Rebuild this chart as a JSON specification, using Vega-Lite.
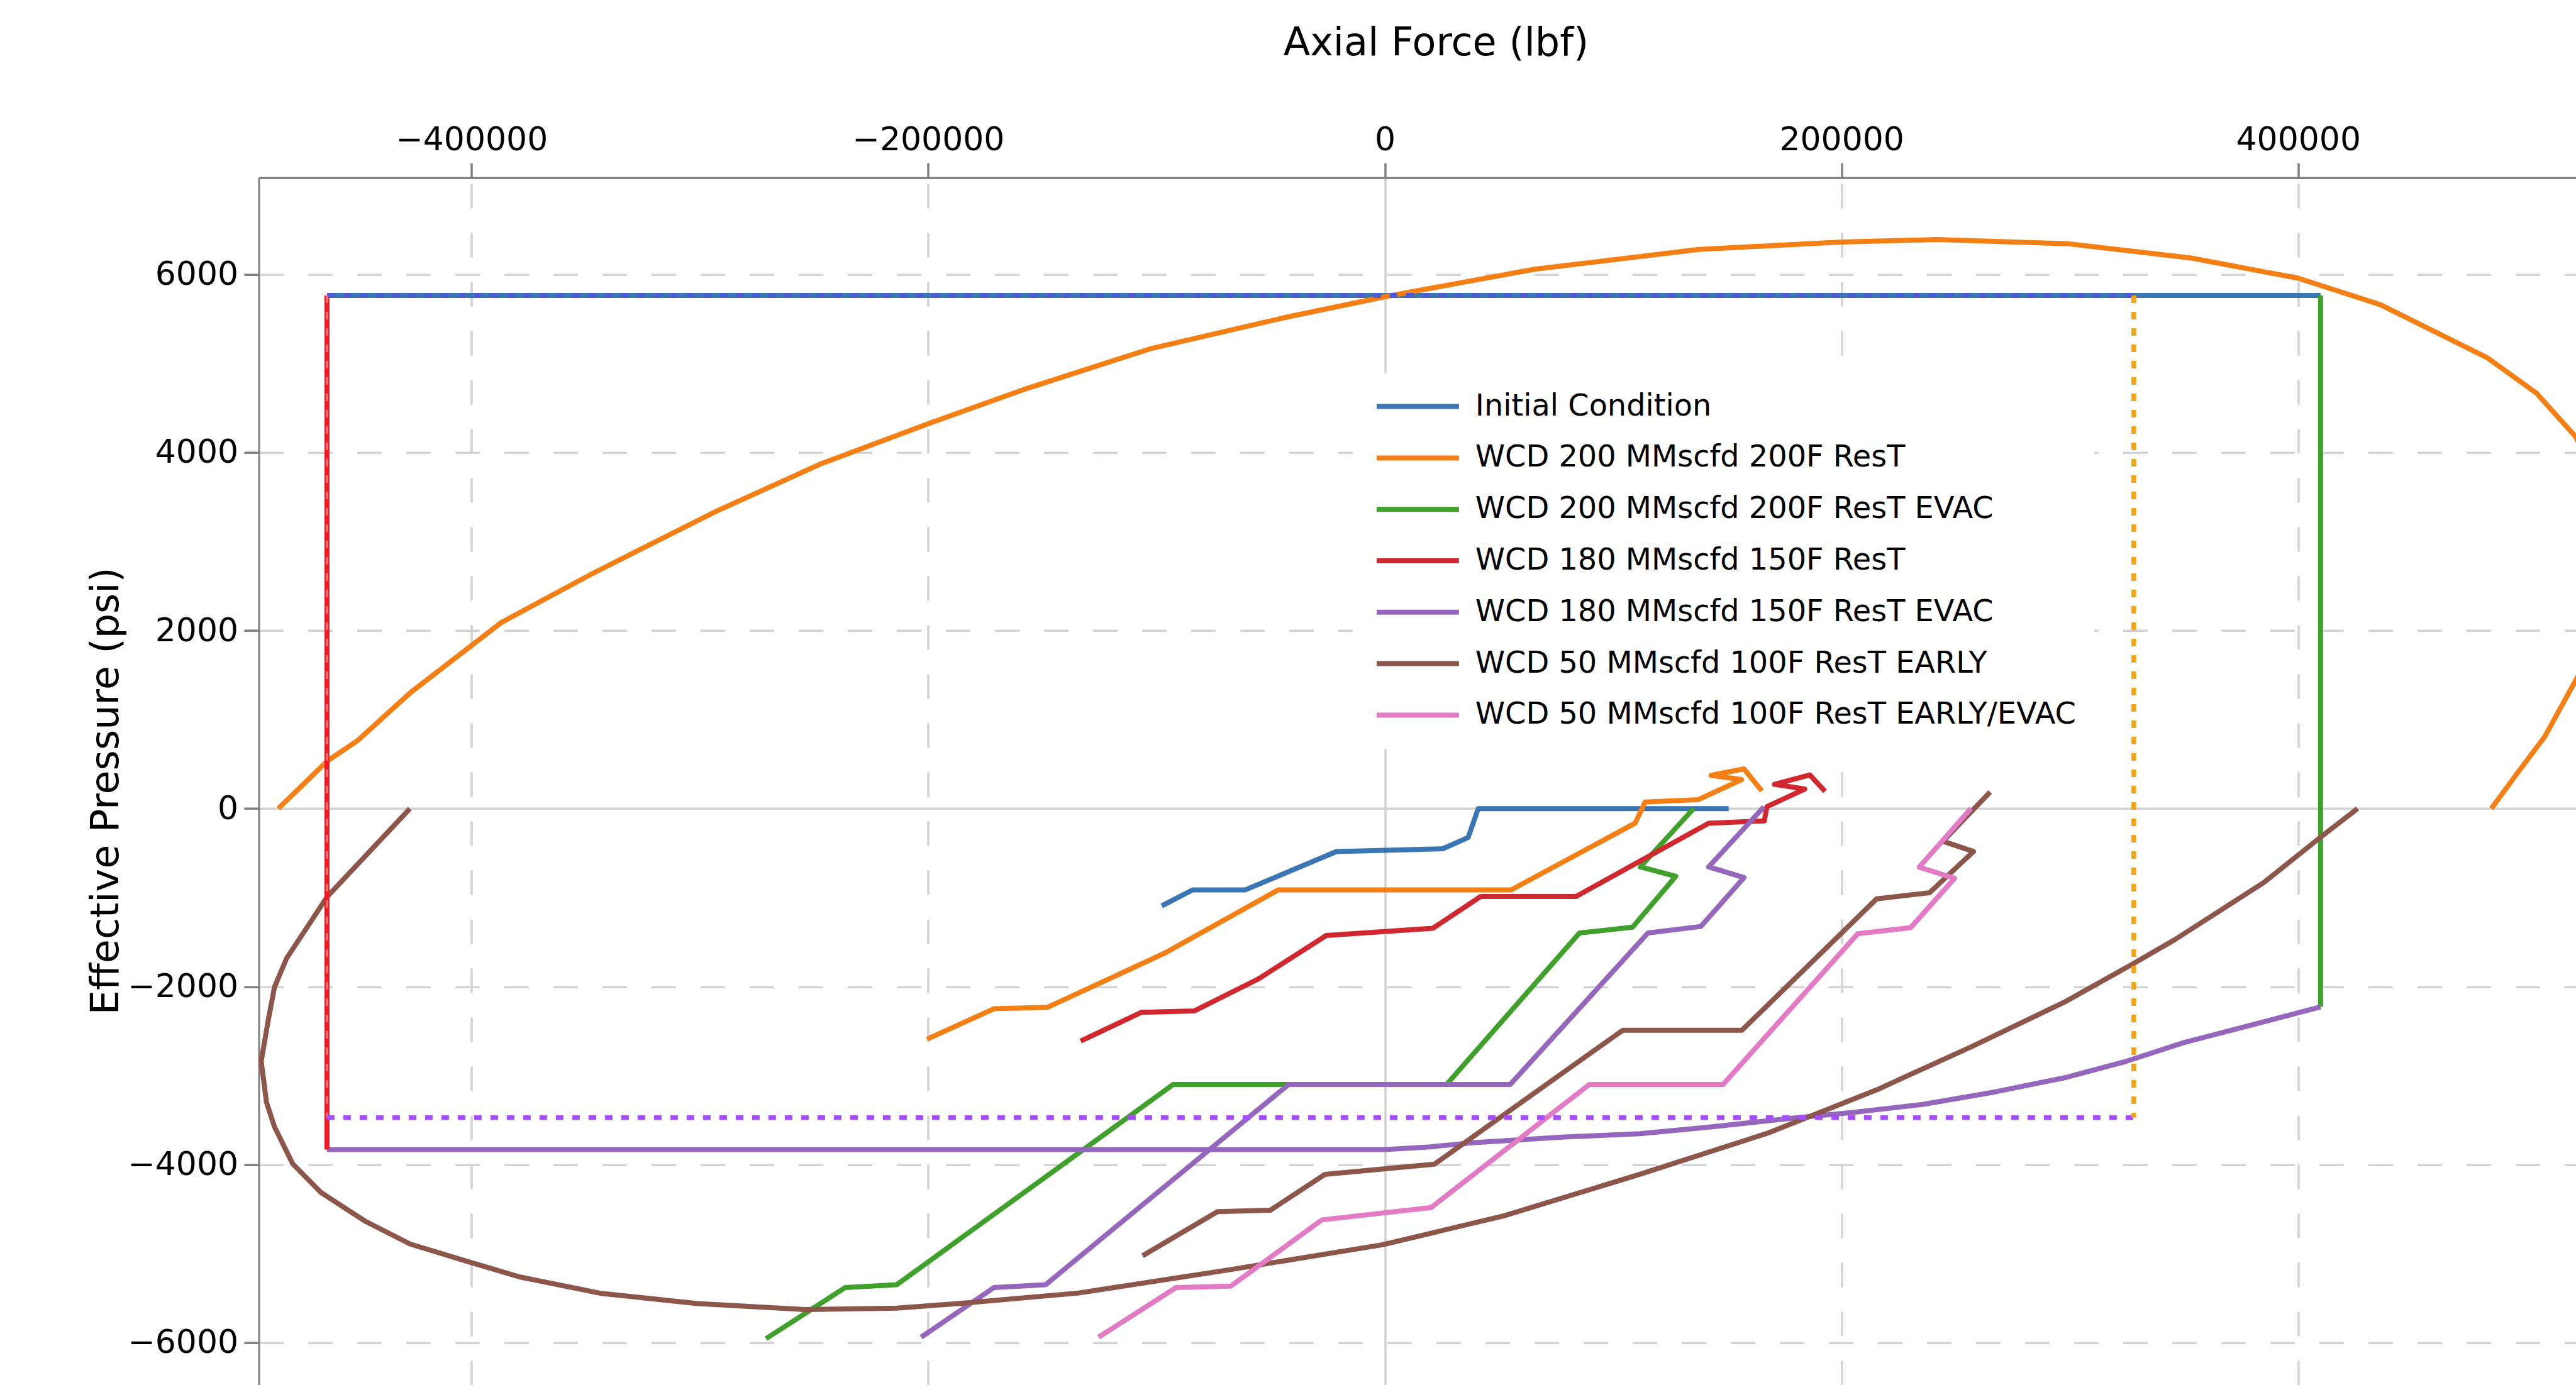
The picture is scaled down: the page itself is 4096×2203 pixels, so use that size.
{
  "$schema": "https://vega.github.io/schema/vega-lite/v6.json",
  "width": 3684.5,
  "height": 1920.3,
  "autosize": {"type": "none"},
  "padding": {"left": 411.5, "top": 282.7, "right": 0, "bottom": 0},
  "background": "#ffffff",
  "config": {"view": {"stroke": null}, "font": "DejaVu Sans"},
  "datasets": {
    "lines": [
      {"series": "Initial Condition", "part": "ic", "i": 1, "x": -97700, "y": -1093},
      {"series": "Initial Condition", "part": "ic", "i": 2, "x": -84200, "y": -913},
      {"series": "Initial Condition", "part": "ic", "i": 3, "x": -61100, "y": -913},
      {"series": "Initial Condition", "part": "ic", "i": 4, "x": -21200, "y": -483},
      {"series": "Initial Condition", "part": "ic", "i": 5, "x": 25400, "y": -451},
      {"series": "Initial Condition", "part": "ic", "i": 6, "x": 36500, "y": -324},
      {"series": "Initial Condition", "part": "ic", "i": 7, "x": 40900, "y": 0},
      {"series": "Initial Condition", "part": "ic", "i": 8, "x": 150600, "y": 0},
      {"series": "Initial Condition", "part": "ic_env", "i": 1, "x": -463300, "y": 5765},
      {"series": "Initial Condition", "part": "ic_env", "i": 2, "x": 409800, "y": 5765},

      {"series": "WCD 200 MMscfd 200F ResT", "part": "o", "i": 1, "x": -200500, "y": -2590},
      {"series": "WCD 200 MMscfd 200F ResT", "part": "o", "i": 2, "x": -171200, "y": -2249},
      {"series": "WCD 200 MMscfd 200F ResT", "part": "o", "i": 3, "x": -147800, "y": -2233},
      {"series": "WCD 200 MMscfd 200F ResT", "part": "o", "i": 4, "x": -96500, "y": -1625},
      {"series": "WCD 200 MMscfd 200F ResT", "part": "o", "i": 5, "x": -46700, "y": -913},
      {"series": "WCD 200 MMscfd 200F ResT", "part": "o", "i": 6, "x": 55300, "y": -913},
      {"series": "WCD 200 MMscfd 200F ResT", "part": "o", "i": 7, "x": 109600, "y": -164},
      {"series": "WCD 200 MMscfd 200F ResT", "part": "o", "i": 8, "x": 114000, "y": 74},
      {"series": "WCD 200 MMscfd 200F ResT", "part": "o", "i": 9, "x": 137300, "y": 101},
      {"series": "WCD 200 MMscfd 200F ResT", "part": "o", "i": 10, "x": 156200, "y": 326},
      {"series": "WCD 200 MMscfd 200F ResT", "part": "o", "i": 11, "x": 142900, "y": 374},
      {"series": "WCD 200 MMscfd 200F ResT", "part": "o", "i": 12, "x": 157300, "y": 446},
      {"series": "WCD 200 MMscfd 200F ResT", "part": "o", "i": 13, "x": 165100, "y": 199},

      {"series": "WCD 200 MMscfd 200F ResT", "part": "o_ell", "i": 1, "x": -484600, "y": 0},
      {"series": "WCD 200 MMscfd 200F ResT", "part": "o_ell", "i": 2, "x": -463200, "y": 534},
      {"series": "WCD 200 MMscfd 200F ResT", "part": "o_ell", "i": 3, "x": -449900, "y": 764},
      {"series": "WCD 200 MMscfd 200F ResT", "part": "o_ell", "i": 4, "x": -426600, "y": 1306},
      {"series": "WCD 200 MMscfd 200F ResT", "part": "o_ell", "i": 5, "x": -387000, "y": 2090},
      {"series": "WCD 200 MMscfd 200F ResT", "part": "o_ell", "i": 6, "x": -347400, "y": 2636},
      {"series": "WCD 200 MMscfd 200F ResT", "part": "o_ell", "i": 7, "x": -293500, "y": 3332},
      {"series": "WCD 200 MMscfd 200F ResT", "part": "o_ell", "i": 8, "x": -246800, "y": 3876},
      {"series": "WCD 200 MMscfd 200F ResT", "part": "o_ell", "i": 9, "x": -200000, "y": 4324},
      {"series": "WCD 200 MMscfd 200F ResT", "part": "o_ell", "i": 10, "x": -156900, "y": 4719},
      {"series": "WCD 200 MMscfd 200F ResT", "part": "o_ell", "i": 11, "x": -102900, "y": 5165},
      {"series": "WCD 200 MMscfd 200F ResT", "part": "o_ell", "i": 12, "x": -42400, "y": 5525},
      {"series": "WCD 200 MMscfd 200F ResT", "part": "o_ell", "i": 13, "x": 0, "y": 5751},
      {"series": "WCD 200 MMscfd 200F ResT", "part": "o_ell", "i": 14, "x": 65500, "y": 6060},
      {"series": "WCD 200 MMscfd 200F ResT", "part": "o_ell", "i": 15, "x": 137400, "y": 6282},
      {"series": "WCD 200 MMscfd 200F ResT", "part": "o_ell", "i": 16, "x": 199700, "y": 6366},
      {"series": "WCD 200 MMscfd 200F ResT", "part": "o_ell", "i": 17, "x": 241700, "y": 6393},
      {"series": "WCD 200 MMscfd 200F ResT", "part": "o_ell", "i": 18, "x": 299300, "y": 6346},
      {"series": "WCD 200 MMscfd 200F ResT", "part": "o_ell", "i": 19, "x": 353300, "y": 6185},
      {"series": "WCD 200 MMscfd 200F ResT", "part": "o_ell", "i": 20, "x": 400000, "y": 5959},
      {"series": "WCD 200 MMscfd 200F ResT", "part": "o_ell", "i": 21, "x": 436000, "y": 5662},
      {"series": "WCD 200 MMscfd 200F ResT", "part": "o_ell", "i": 22, "x": 482700, "y": 5067},
      {"series": "WCD 200 MMscfd 200F ResT", "part": "o_ell", "i": 23, "x": 504300, "y": 4669},
      {"series": "WCD 200 MMscfd 200F ResT", "part": "o_ell", "i": 24, "x": 521700, "y": 4173},
      {"series": "WCD 200 MMscfd 200F ResT", "part": "o_ell", "i": 25, "x": 533000, "y": 3500},
      {"series": "WCD 200 MMscfd 200F ResT", "part": "o_ell", "i": 26, "x": 538000, "y": 2800},
      {"series": "WCD 200 MMscfd 200F ResT", "part": "o_ell", "i": 27, "x": 533000, "y": 2000},
      {"series": "WCD 200 MMscfd 200F ResT", "part": "o_ell", "i": 28, "x": 521700, "y": 1450},
      {"series": "WCD 200 MMscfd 200F ResT", "part": "o_ell", "i": 29, "x": 508000, "y": 809},
      {"series": "WCD 200 MMscfd 200F ResT", "part": "o_ell", "i": 30, "x": 496000, "y": 400},
      {"series": "WCD 200 MMscfd 200F ResT", "part": "o_ell", "i": 31, "x": 484600, "y": 0},

      {"series": "WCD 200 MMscfd 200F ResT EVAC", "part": "g", "i": 1, "x": -271000, "y": -5955},
      {"series": "WCD 200 MMscfd 200F ResT EVAC", "part": "g", "i": 2, "x": -236300, "y": -5381},
      {"series": "WCD 200 MMscfd 200F ResT EVAC", "part": "g", "i": 3, "x": -213800, "y": -5350},
      {"series": "WCD 200 MMscfd 200F ResT EVAC", "part": "g", "i": 4, "x": -92700, "y": -3100},
      {"series": "WCD 200 MMscfd 200F ResT EVAC", "part": "g", "i": 5, "x": 27000, "y": -3100},
      {"series": "WCD 200 MMscfd 200F ResT EVAC", "part": "g", "i": 6, "x": 85200, "y": -1398},
      {"series": "WCD 200 MMscfd 200F ResT EVAC", "part": "g", "i": 7, "x": 108500, "y": -1332},
      {"series": "WCD 200 MMscfd 200F ResT EVAC", "part": "g", "i": 8, "x": 127400, "y": -761},
      {"series": "WCD 200 MMscfd 200F ResT EVAC", "part": "g", "i": 9, "x": 111900, "y": -655},
      {"series": "WCD 200 MMscfd 200F ResT EVAC", "part": "g", "i": 10, "x": 135200, "y": 0},
      {"series": "WCD 200 MMscfd 200F ResT EVAC", "part": "g_env", "i": 1, "x": 409800, "y": 5765},
      {"series": "WCD 200 MMscfd 200F ResT EVAC", "part": "g_env", "i": 2, "x": 409800, "y": -2228},

      {"series": "WCD 180 MMscfd 150F ResT", "part": "r", "i": 1, "x": -133200, "y": -2612},
      {"series": "WCD 180 MMscfd 150F ResT", "part": "r", "i": 2, "x": -106600, "y": -2289},
      {"series": "WCD 180 MMscfd 150F ResT", "part": "r", "i": 3, "x": -83500, "y": -2274},
      {"series": "WCD 180 MMscfd 150F ResT", "part": "r", "i": 4, "x": -55500, "y": -1915},
      {"series": "WCD 180 MMscfd 150F ResT", "part": "r", "i": 5, "x": -25600, "y": -1425},
      {"series": "WCD 180 MMscfd 150F ResT", "part": "r", "i": 6, "x": 21000, "y": -1345},
      {"series": "WCD 180 MMscfd 150F ResT", "part": "r", "i": 7, "x": 42000, "y": -987},
      {"series": "WCD 180 MMscfd 150F ResT", "part": "r", "i": 8, "x": 83700, "y": -987},
      {"series": "WCD 180 MMscfd 150F ResT", "part": "r", "i": 9, "x": 141800, "y": -164},
      {"series": "WCD 180 MMscfd 150F ResT", "part": "r", "i": 10, "x": 166200, "y": -138},
      {"series": "WCD 180 MMscfd 150F ResT", "part": "r", "i": 11, "x": 167300, "y": 21},
      {"series": "WCD 180 MMscfd 150F ResT", "part": "r", "i": 12, "x": 183900, "y": 220},
      {"series": "WCD 180 MMscfd 150F ResT", "part": "r", "i": 13, "x": 170600, "y": 273},
      {"series": "WCD 180 MMscfd 150F ResT", "part": "r", "i": 14, "x": 186100, "y": 379},
      {"series": "WCD 180 MMscfd 150F ResT", "part": "r", "i": 15, "x": 192800, "y": 194},

      {"series": "WCD 180 MMscfd 150F ResT EVAC", "part": "p", "i": 1, "x": -203100, "y": -5939},
      {"series": "WCD 180 MMscfd 150F ResT EVAC", "part": "p", "i": 2, "x": -171200, "y": -5381},
      {"series": "WCD 180 MMscfd 150F ResT EVAC", "part": "p", "i": 3, "x": -148600, "y": -5350},
      {"series": "WCD 180 MMscfd 150F ResT EVAC", "part": "p", "i": 4, "x": -42200, "y": -3100},
      {"series": "WCD 180 MMscfd 150F ResT EVAC", "part": "p", "i": 5, "x": 54900, "y": -3100},
      {"series": "WCD 180 MMscfd 150F ResT EVAC", "part": "p", "i": 6, "x": 115200, "y": -1398},
      {"series": "WCD 180 MMscfd 150F ResT EVAC", "part": "p", "i": 7, "x": 138400, "y": -1324},
      {"series": "WCD 180 MMscfd 150F ResT EVAC", "part": "p", "i": 8, "x": 157300, "y": -775},
      {"series": "WCD 180 MMscfd 150F ResT EVAC", "part": "p", "i": 9, "x": 141800, "y": -655},
      {"series": "WCD 180 MMscfd 150F ResT EVAC", "part": "p", "i": 10, "x": 166000, "y": 20},
      {"series": "WCD 180 MMscfd 150F ResT EVAC", "part": "p_env", "i": 1, "x": -463300, "y": -3830},
      {"series": "WCD 180 MMscfd 150F ResT EVAC", "part": "p_env", "i": 2, "x": 0, "y": -3830},
      {"series": "WCD 180 MMscfd 150F ResT EVAC", "part": "p_env", "i": 3, "x": 20000, "y": -3800},
      {"series": "WCD 180 MMscfd 150F ResT EVAC", "part": "p_env", "i": 4, "x": 39000, "y": -3753},
      {"series": "WCD 180 MMscfd 150F ResT EVAC", "part": "p_env", "i": 5, "x": 78800, "y": -3690},
      {"series": "WCD 180 MMscfd 150F ResT EVAC", "part": "p_env", "i": 6, "x": 111900, "y": -3652},
      {"series": "WCD 180 MMscfd 150F ResT EVAC", "part": "p_env", "i": 7, "x": 142800, "y": -3576},
      {"series": "WCD 180 MMscfd 150F ResT EVAC", "part": "p_env", "i": 8, "x": 180100, "y": -3474},
      {"series": "WCD 180 MMscfd 150F ResT EVAC", "part": "p_env", "i": 9, "x": 204900, "y": -3414},
      {"series": "WCD 180 MMscfd 150F ResT EVAC", "part": "p_env", "i": 10, "x": 235900, "y": -3322},
      {"series": "WCD 180 MMscfd 150F ResT EVAC", "part": "p_env", "i": 11, "x": 267000, "y": -3184},
      {"series": "WCD 180 MMscfd 150F ResT EVAC", "part": "p_env", "i": 12, "x": 298100, "y": -3022},
      {"series": "WCD 180 MMscfd 150F ResT EVAC", "part": "p_env", "i": 13, "x": 325000, "y": -2837},
      {"series": "WCD 180 MMscfd 150F ResT EVAC", "part": "p_env", "i": 14, "x": 349900, "y": -2629},
      {"series": "WCD 180 MMscfd 150F ResT EVAC", "part": "p_env", "i": 15, "x": 380900, "y": -2422},
      {"series": "WCD 180 MMscfd 150F ResT EVAC", "part": "p_env", "i": 16, "x": 409800, "y": -2228},

      {"series": "WCD 50 MMscfd 100F ResT EARLY", "part": "b", "i": 1, "x": -106100, "y": -5024},
      {"series": "WCD 50 MMscfd 100F ResT EARLY", "part": "b", "i": 2, "x": -73300, "y": -4528},
      {"series": "WCD 50 MMscfd 100F ResT EARLY", "part": "b", "i": 3, "x": -50200, "y": -4513},
      {"series": "WCD 50 MMscfd 100F ResT EARLY", "part": "b", "i": 4, "x": -26300, "y": -4110},
      {"series": "WCD 50 MMscfd 100F ResT EARLY", "part": "b", "i": 5, "x": 21700, "y": -3995},
      {"series": "WCD 50 MMscfd 100F ResT EARLY", "part": "b", "i": 6, "x": 104200, "y": -2490},
      {"series": "WCD 50 MMscfd 100F ResT EARLY", "part": "b", "i": 7, "x": 156400, "y": -2490},
      {"series": "WCD 50 MMscfd 100F ResT EARLY", "part": "b", "i": 8, "x": 215400, "y": -1014},
      {"series": "WCD 50 MMscfd 100F ResT EARLY", "part": "b", "i": 9, "x": 238600, "y": -945},
      {"series": "WCD 50 MMscfd 100F ResT EARLY", "part": "b", "i": 10, "x": 257800, "y": -482},
      {"series": "WCD 50 MMscfd 100F ResT EARLY", "part": "b", "i": 11, "x": 244400, "y": -367},
      {"series": "WCD 50 MMscfd 100F ResT EARLY", "part": "b", "i": 12, "x": 265100, "y": 187},

      {"series": "WCD 50 MMscfd 100F ResT EARLY", "part": "b_ell", "i": 1, "x": -427000, "y": 0},
      {"series": "WCD 50 MMscfd 100F ResT EARLY", "part": "b_ell", "i": 2, "x": -463200, "y": -990},
      {"series": "WCD 50 MMscfd 100F ResT EARLY", "part": "b_ell", "i": 3, "x": -481000, "y": -1683},
      {"series": "WCD 50 MMscfd 100F ResT EARLY", "part": "b_ell", "i": 4, "x": -486300, "y": -2006},
      {"series": "WCD 50 MMscfd 100F ResT EARLY", "part": "b_ell", "i": 5, "x": -489000, "y": -2374},
      {"series": "WCD 50 MMscfd 100F ResT EARLY", "part": "b_ell", "i": 6, "x": -492100, "y": -2838},
      {"series": "WCD 50 MMscfd 100F ResT EARLY", "part": "b_ell", "i": 7, "x": -489800, "y": -3299},
      {"series": "WCD 50 MMscfd 100F ResT EARLY", "part": "b_ell", "i": 8, "x": -486300, "y": -3575},
      {"series": "WCD 50 MMscfd 100F ResT EARLY", "part": "b_ell", "i": 9, "x": -478300, "y": -3991},
      {"series": "WCD 50 MMscfd 100F ResT EARLY", "part": "b_ell", "i": 10, "x": -465900, "y": -4314},
      {"series": "WCD 50 MMscfd 100F ResT EARLY", "part": "b_ell", "i": 11, "x": -446400, "y": -4638},
      {"series": "WCD 50 MMscfd 100F ResT EARLY", "part": "b_ell", "i": 12, "x": -426900, "y": -4892},
      {"series": "WCD 50 MMscfd 100F ResT EARLY", "part": "b_ell", "i": 13, "x": -400300, "y": -5099},
      {"series": "WCD 50 MMscfd 100F ResT EARLY", "part": "b_ell", "i": 14, "x": -379000, "y": -5261},
      {"series": "WCD 50 MMscfd 100F ResT EARLY", "part": "b_ell", "i": 15, "x": -343500, "y": -5446},
      {"series": "WCD 50 MMscfd 100F ResT EARLY", "part": "b_ell", "i": 16, "x": -301000, "y": -5561},
      {"series": "WCD 50 MMscfd 100F ResT EARLY", "part": "b_ell", "i": 17, "x": -253700, "y": -5629},
      {"series": "WCD 50 MMscfd 100F ResT EARLY", "part": "b_ell", "i": 18, "x": -213800, "y": -5613},
      {"series": "WCD 50 MMscfd 100F ResT EARLY", "part": "b_ell", "i": 19, "x": -181900, "y": -5551},
      {"series": "WCD 50 MMscfd 100F ResT EARLY", "part": "b_ell", "i": 20, "x": -134000, "y": -5442},
      {"series": "WCD 50 MMscfd 100F ResT EARLY", "part": "b_ell", "i": 21, "x": -67500, "y": -5179},
      {"series": "WCD 50 MMscfd 100F ResT EARLY", "part": "b_ell", "i": 22, "x": -1000, "y": -4900},
      {"series": "WCD 50 MMscfd 100F ResT EARLY", "part": "b_ell", "i": 23, "x": 52200, "y": -4575},
      {"series": "WCD 50 MMscfd 100F ResT EARLY", "part": "b_ell", "i": 24, "x": 111900, "y": -4107},
      {"series": "WCD 50 MMscfd 100F ResT EARLY", "part": "b_ell", "i": 25, "x": 167800, "y": -3645},
      {"series": "WCD 50 MMscfd 100F ResT EARLY", "part": "b_ell", "i": 26, "x": 215400, "y": -3160},
      {"series": "WCD 50 MMscfd 100F ResT EARLY", "part": "b_ell", "i": 27, "x": 256800, "y": -2676},
      {"series": "WCD 50 MMscfd 100F ResT EARLY", "part": "b_ell", "i": 28, "x": 298100, "y": -2168},
      {"series": "WCD 50 MMscfd 100F ResT EARLY", "part": "b_ell", "i": 29, "x": 327100, "y": -1752},
      {"series": "WCD 50 MMscfd 100F ResT EARLY", "part": "b_ell", "i": 30, "x": 345800, "y": -1475},
      {"series": "WCD 50 MMscfd 100F ResT EARLY", "part": "b_ell", "i": 31, "x": 385000, "y": -829},
      {"series": "WCD 50 MMscfd 100F ResT EARLY", "part": "b_ell", "i": 32, "x": 409800, "y": -321},
      {"series": "WCD 50 MMscfd 100F ResT EARLY", "part": "b_ell", "i": 33, "x": 426000, "y": 0},

      {"series": "WCD 50 MMscfd 100F ResT EARLY/EVAC", "part": "k", "i": 1, "x": -125400, "y": -5939},
      {"series": "WCD 50 MMscfd 100F ResT EARLY/EVAC", "part": "k", "i": 2, "x": -91400, "y": -5381},
      {"series": "WCD 50 MMscfd 100F ResT EARLY/EVAC", "part": "k", "i": 3, "x": -67500, "y": -5366},
      {"series": "WCD 50 MMscfd 100F ResT EARLY/EVAC", "part": "k", "i": 4, "x": -27600, "y": -4621},
      {"series": "WCD 50 MMscfd 100F ResT EARLY/EVAC", "part": "k", "i": 5, "x": 20300, "y": -4482},
      {"series": "WCD 50 MMscfd 100F ResT EARLY/EVAC", "part": "k", "i": 6, "x": 89500, "y": -3100},
      {"series": "WCD 50 MMscfd 100F ResT EARLY/EVAC", "part": "k", "i": 7, "x": 148100, "y": -3100},
      {"series": "WCD 50 MMscfd 100F ResT EARLY/EVAC", "part": "k", "i": 8, "x": 207100, "y": -1406},
      {"series": "WCD 50 MMscfd 100F ResT EARLY/EVAC", "part": "k", "i": 9, "x": 230300, "y": -1337},
      {"series": "WCD 50 MMscfd 100F ResT EARLY/EVAC", "part": "k", "i": 10, "x": 249500, "y": -783},
      {"series": "WCD 50 MMscfd 100F ResT EARLY/EVAC", "part": "k", "i": 11, "x": 234000, "y": -658},
      {"series": "WCD 50 MMscfd 100F ResT EARLY/EVAC", "part": "k", "i": 12, "x": 256700, "y": 2}
    ],
    "edges": [
      {"edge": "leftsolid", "i": 1, "x": -463300, "y": 5765},
      {"edge": "leftsolid", "i": 2, "x": -463300, "y": -3830},
      {"edge": "top", "i": 1, "x": -463300, "y": 5765},
      {"edge": "top", "i": 2, "x": 328000, "y": 5765},
      {"edge": "left", "i": 1, "x": -463300, "y": 5765},
      {"edge": "left", "i": 2, "x": -463300, "y": -3473},
      {"edge": "bottom", "i": 1, "x": -463300, "y": -3473},
      {"edge": "bottom", "i": 2, "x": 328000, "y": -3473},
      {"edge": "right", "i": 1, "x": 328000, "y": 5765},
      {"edge": "right", "i": 2, "x": 328000, "y": -3473}
    ]
  },
  "encoding": {
    "x": {
      "field": "x", "type": "quantitative",
      "scale": {"domain": [-493163, 521669], "nice": false, "zero": false},
      "axis": {
        "orient": "top",
        "values": [-400000, -200000, 0, 200000, 400000],
        "format": "d",
        "title": "Axial Force (lbf)",
        "titleFont": "DejaVu Sans", "titleFontSize": 62, "titleFontWeight": "normal", "titleColor": "#000000",
        "titleX": 1871.5, "titleY": -195, "titleBaseline": "alphabetic", "titleAlign": "center", "titleAngle": 0,
        "labelFont": "DejaVu Sans", "labelFontSize": 52, "labelColor": "#000000", "labelLimit": 0,
        "labelBaseline": "alphabetic", "labelPadding": 21, "labelFlush": false, "labelOverlap": false,
        "tickSize": 23.6, "tickWidth": 3.5, "tickColor": "#808080",
        "domainColor": "#808080", "domainWidth": 3.4,
        "grid": true, "gridColor": "#d3d3d3", "gridWidth": 3.6,
        "gridDash": {"condition": {"test": "datum.value === 0", "value": []}, "value": [39, 39]}
      }
    },
    "y": {
      "field": "y", "type": "quantitative",
      "scale": {"domain": [-6476, 7088], "nice": false, "zero": false},
      "axis": {
        "orient": "left",
        "values": [-6000, -4000, -2000, 0, 2000, 4000, 6000],
        "format": "d",
        "title": "Effective Pressure (psi)",
        "titleFont": "DejaVu Sans", "titleFontSize": 62, "titleFontWeight": "normal", "titleColor": "#000000",
        "titleX": -224.5, "titleY": 975, "titleBaseline": "alphabetic", "titleAlign": "center", "titleAngle": 270,
        "labelFont": "DejaVu Sans", "labelFontSize": 52, "labelColor": "#000000", "labelLimit": 0,
        "labelBaseline": "middle", "labelPadding": 9.3, "labelFlush": false, "labelOverlap": false,
        "tickSize": 23.6, "tickWidth": 3.5, "tickColor": "#808080",
        "domainColor": "#808080", "domainWidth": 3,
        "grid": true, "gridColor": "#d3d3d3", "gridWidth": 3.6,
        "gridDash": {"condition": {"test": "datum.value === 0", "value": []}, "value": [39, 39]}
      }
    }
  },
  "layer": [
    {
      "data": {"name": "lines"},
      "mark": {"type": "line", "clip": true, "strokeWidth": 8, "strokeJoin": "round", "strokeCap": "butt"},
      "encoding": {
        "color": {
          "field": "series", "type": "nominal",
          "scale": {
            "domain": ["Initial Condition", "WCD 200 MMscfd 200F ResT", "WCD 200 MMscfd 200F ResT EVAC", "WCD 180 MMscfd 150F ResT", "WCD 180 MMscfd 150F ResT EVAC", "WCD 50 MMscfd 100F ResT EARLY", "WCD 50 MMscfd 100F ResT EARLY/EVAC"],
            "range": ["#3b76b4", "#f47f14", "#3fa12c", "#d0282e", "#9467bd", "#8c564b", "#e27ac4"]
          },
          "legend": {
            "orient": "none", "legendX": 1739.5, "legendY": 311,
            "title": null,
            "labelFont": "DejaVu Sans", "labelFontSize": 47.8, "labelColor": "#000000", "labelLimit": 0,
            "symbolType": "M-1,0H7.733", "symbolSize": 900, "symbolStrokeWidth": 8,
            "labelOffset": 118, "rowPadding": 32.8, "padding": 29,
            "fillColor": "#ffffff", "strokeColor": null
          }
        },
        "detail": {"field": "part", "type": "nominal"},
        "order": {"field": "i", "type": "quantitative"}
      }
    },
    {
      "data": {"name": "edges"},
      "transform": [{"filter": "datum.edge === 'leftsolid'"}],
      "mark": {"type": "line", "clip": true, "strokeWidth": 8, "color": "#ee1d25", "strokeCap": "butt"},
      "encoding": {"order": {"field": "i", "type": "quantitative"}}
    },
    {
      "data": {"name": "edges"},
      "transform": [{"filter": "datum.edge === 'top'"}],
      "mark": {"type": "line", "clip": true, "strokeWidth": 8, "color": "#4d5ad6", "strokeDash": [12, 14], "strokeCap": "butt"},
      "encoding": {"order": {"field": "i", "type": "quantitative"}}
    },
    {
      "data": {"name": "edges"},
      "transform": [{"filter": "datum.edge === 'left'"}],
      "mark": {"type": "line", "clip": true, "strokeWidth": 3, "color": "#ff7a7a", "strokeDash": [12, 14], "strokeCap": "butt"},
      "encoding": {"order": {"field": "i", "type": "quantitative"}}
    },
    {
      "data": {"name": "edges"},
      "transform": [{"filter": "datum.edge === 'bottom'"}],
      "mark": {"type": "line", "clip": true, "strokeWidth": 7.5, "color": "#a64dff", "strokeDash": [12, 14], "strokeCap": "butt"},
      "encoding": {"order": {"field": "i", "type": "quantitative"}}
    },
    {
      "data": {"name": "edges"},
      "transform": [{"filter": "datum.edge === 'right'"}],
      "mark": {"type": "line", "clip": true, "strokeWidth": 7.5, "color": "#f5a30f", "strokeDash": [12, 14], "strokeCap": "butt"},
      "encoding": {"order": {"field": "i", "type": "quantitative"}}
    }
  ]
}
